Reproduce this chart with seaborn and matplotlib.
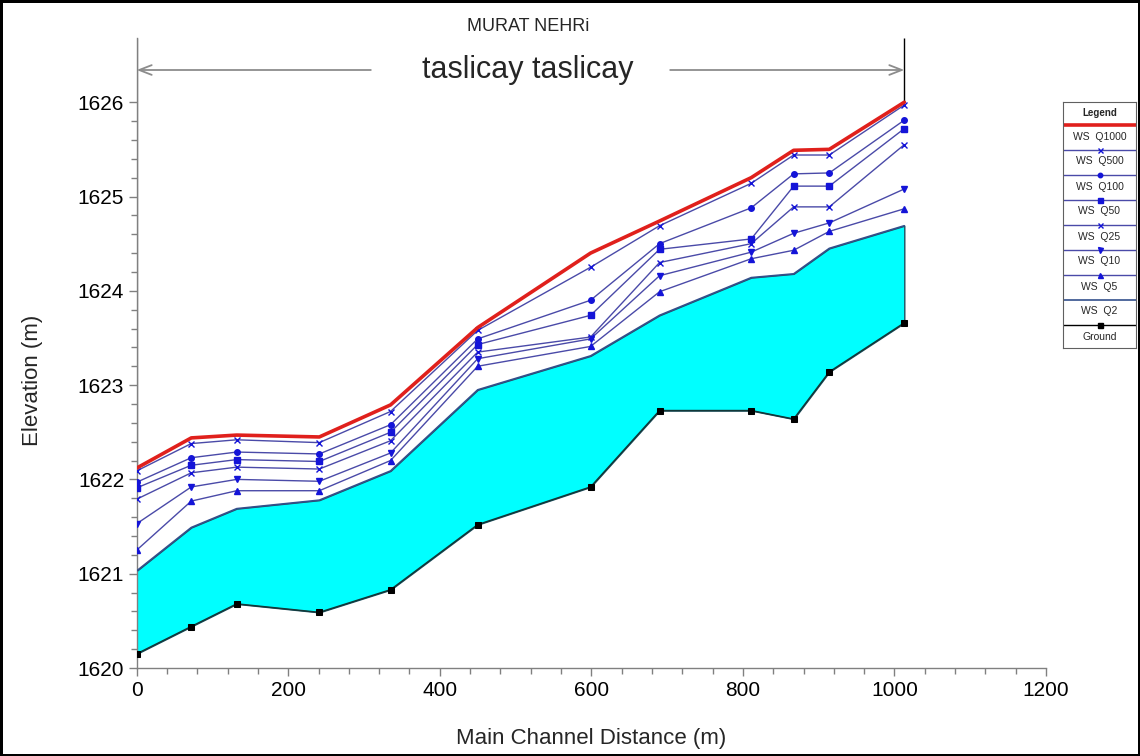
import numpy as np
import seaborn as sns
import matplotlib.pyplot as plt
from matplotlib.ticker import MultipleLocator, FixedLocator

# River stations (m) and elevations (m)
dist = [0, 72, 132, 241, 335, 450, 599, 690, 811, 867, 914, 1013]
ground = [1620.15, 1620.44, 1620.68, 1620.59, 1620.83, 1621.52,
          1621.92, 1622.73, 1622.73, 1622.64, 1623.14, 1623.66]
ws_q2 = [1621.03, 1621.49, 1621.69, 1621.78, 1622.09, 1622.95,
         1623.31, 1623.74, 1624.14, 1624.18, 1624.45, 1624.69]
ws_q5 = [1621.25, 1621.77, 1621.88, 1621.88, 1622.20, 1623.20,
         1623.41, 1623.99, 1624.34, 1624.43, 1624.63, 1624.87]
ws_q10 = [1621.53, 1621.92, 1622.00, 1621.98, 1622.28, 1623.28,
          1623.49, 1624.16, 1624.41, 1624.61, 1624.72, 1625.08]
ws_q25 = [1621.79, 1622.07, 1622.13, 1622.11, 1622.41, 1623.35,
          1623.51, 1624.30, 1624.50, 1624.89, 1624.89, 1625.55]
ws_q50 = [1621.91, 1622.15, 1622.21, 1622.19, 1622.50, 1623.43,
          1623.74, 1624.44, 1624.55, 1625.11, 1625.11, 1625.72]
ws_q100 = [1621.97, 1622.23, 1622.29, 1622.27, 1622.58, 1623.49,
           1623.90, 1624.50, 1624.88, 1625.24, 1625.25, 1625.81]
ws_q500 = [1622.09, 1622.38, 1622.42, 1622.39, 1622.72, 1623.58,
           1624.25, 1624.69, 1625.14, 1625.44, 1625.44, 1625.97]
ws_q1000 = [1622.12, 1622.44, 1622.47, 1622.45, 1622.79, 1623.61,
            1624.40, 1624.74, 1625.20, 1625.49, 1625.50, 1626.00]

x_ticks = [0, 200, 400, 600, 800, 1000, 1200]
y_ticks = [1620, 1621, 1622, 1623, 1624, 1625, 1626]

title = "MURAT NEHRi"
reach_name = "taslicay taslicay"

blue_line = "#4a4aa8"
blue_mark = "#1414d8"

# name, values, line color, line width, marker, marker size
series = [
    ("WS  Q2", ws_q2, "#34508c", 1.2, None, 0),
    ("WS  Q5", ws_q5, blue_line, 1.0, "^", 4.5),
    ("WS  Q10", ws_q10, blue_line, 1.0, "v", 4.5),
    ("WS  Q25", ws_q25, blue_line, 1.0, "x", 4.5),
    ("WS  Q50", ws_q50, blue_line, 1.0, "s", 4.5),
    ("WS  Q100", ws_q100, blue_line, 1.0, "o", 4),
    ("WS  Q500", ws_q500, blue_line, 1.0, "x", 4.5),
    ("WS  Q1000", ws_q1000, "#e0201c", 2.6, None, 0),
]

sns.set_style("ticks")
plt.rcParams["font.family"] = ["Liberation Sans", "DejaVu Sans"]

fig = plt.figure(figsize=(11.4, 7.56), dpi=100, edgecolor="black", linewidth=2.5)
ax = fig.add_axes([136.7 / 1140, 1 - 668 / 756, 909.3 / 1140, 630 / 756])

y_top = 1620 + 630 / 94.3
ax.set_xlim(0, 1200)
ax.set_ylim(1620, y_top)

# water between ground and the Q2 surface
ax.fill_between(dist, ground, ws_q2, facecolor="#00ffff", edgecolor="#1e4f5f",
                linewidth=1.0, zorder=1)
sns.lineplot(x=dist, y=ground, ax=ax, color="#123838", linewidth=1.1,
             marker="s", markersize=5, markerfacecolor="black",
             markeredgecolor="black", estimator=None, sort=False, zorder=3)

for name, vals, col, lw, mk, ms in series:
    kws = dict(color=col, linewidth=lw, estimator=None, sort=False, zorder=3)
    if mk is not None:
        kws.update(marker=mk, markersize=ms, markerfacecolor=blue_mark,
                   markeredgecolor=blue_mark, markeredgewidth=1.0)
    sns.lineplot(x=dist, y=vals, ax=ax, **kws)

# reach markers
ax.vlines(dist[-1], ws_q1000[-1], y_top, color="black", linewidth=1.0, zorder=2)
ax.vlines(dist[0], ws_q1000[0], y_top, color="#808080", linewidth=1.0, zorder=2)
y_arrow = 1620 + 598 / 94.3
reach = dist[-1] - dist[0]
gap_l = dist[0] + 0.305 * reach
gap_r = dist[0] + 0.695 * reach
arrow_kw = dict(arrowstyle="->,head_length=0.9,head_width=0.35", color="#8c8c8c",
                lw=1.3, shrinkA=0, shrinkB=0)
ax.annotate("", xy=(dist[0], y_arrow), xytext=(gap_l, y_arrow), arrowprops=arrow_kw,
            annotation_clip=False)
ax.annotate("", xy=(dist[-1], y_arrow), xytext=(gap_r, y_arrow), arrowprops=arrow_kw,
            annotation_clip=False)
mid = (dist[0] + dist[-1]) / 2
ax.text(mid + 10, y_arrow, reach_name, ha="center", va="center", fontsize=22)
ax.text(mid + 10, 1620 + (668 - 27) / 94.3, title, ha="center", va="center",
        fontsize=13, clip_on=False)

# axes styling
for s in ["top", "right"]:
    ax.spines[s].set_visible(False)
for s in ["left", "bottom"]:
    ax.spines[s].set_color("#808080")
    ax.spines[s].set_linewidth(1.0)
ax.set_xticks(x_ticks)
ax.set_yticks(y_ticks)
ax.xaxis.set_minor_locator(MultipleLocator(40))
ax.yaxis.set_minor_locator(FixedLocator(np.arange(1620, 1626.01, 0.2)))
ax.tick_params(which="major", length=6, width=1, color="#808080", labelsize=15,
               pad=3, labelcolor="black")
ax.tick_params(which="minor", length=4, width=1, color="#808080")
ax.set_xlabel("Main Channel Distance (m)", fontsize=16)
ax.set_ylabel("Elevation (m)", fontsize=16)
ax.xaxis.set_label_coords(0.5, -0.095)
ax.yaxis.set_label_coords(-0.103, 0.456)

# HEC-RAS style legend box: line sample above each label
lax = fig.add_axes([1063 / 1140, 1 - 348 / 756, 73 / 1140, 246 / 756])
lax.set_xlim(0, 1)
lax.set_ylim(246, 0)
lax.set_xticks([])
lax.set_yticks([])
for s in lax.spines.values():
    s.set_color("#606060")
    s.set_linewidth(0.8)
lax.text(0.5, 11, "Legend", ha="center", va="center", fontsize=7, fontweight="bold")
legend_items = [(n, c, lw, m, ms) for n, v, c, lw, m, ms in series[::-1]]
legend_items.append(("Ground", "black", 1.0, "s", 4.5))
for i, (name, col, lw, mk, ms) in enumerate(legend_items):
    yl = 23 + 25 * i
    lax.plot([0, 1], [yl, yl], color=col, linewidth=lw)
    if mk is not None:
        mc = "black" if name == "Ground" else blue_mark
        lax.plot([0.5], [yl], marker=mk, markersize=ms * 0.8, color=mc,
                 markeredgewidth=1.0)
    lax.text(0.5, yl + 11.5, name, ha="center", va="center", fontsize=7.5)

fig.savefig("out.png", dpi=100)
